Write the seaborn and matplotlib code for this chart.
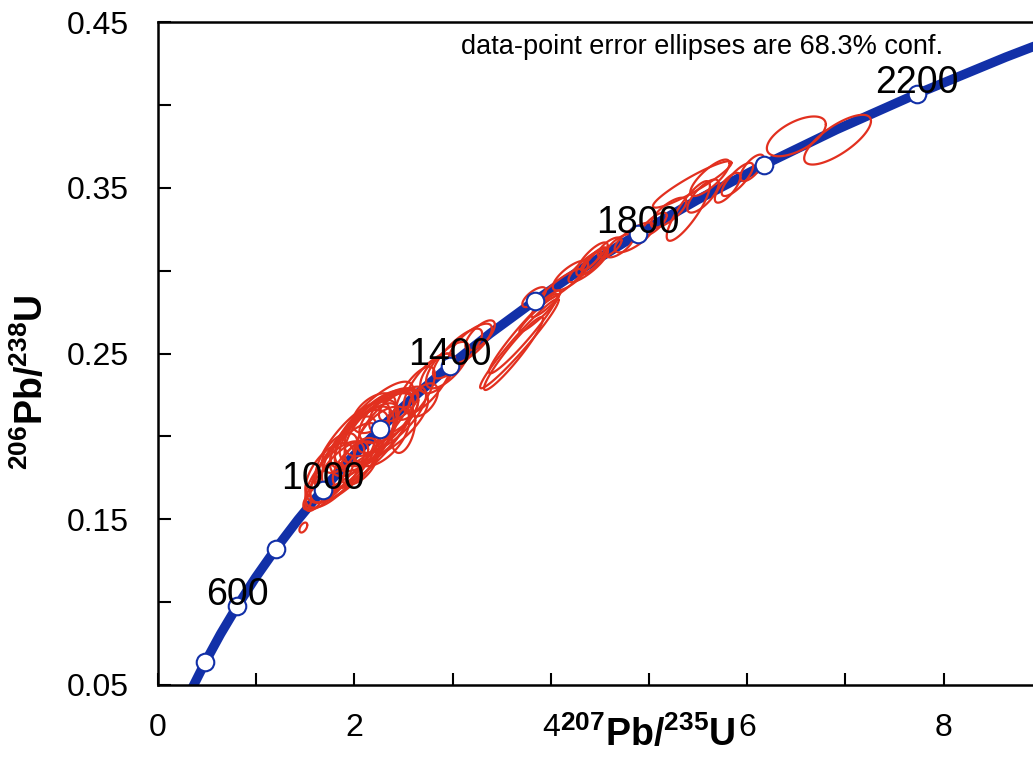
import numpy as np
import pandas as pd
import matplotlib
matplotlib.use("Agg")
import matplotlib.pyplot as plt
from matplotlib.ticker import FixedLocator, FixedFormatter
import seaborn as sns

# ---------------- data ----------------
# concordia curve (207Pb/235U, 206Pb/238U) read at 100 Ma steps
curve_age = [300, 400, 500, 600, 700, 800, 900, 1000, 1100, 1200, 1300, 1400,
             1500, 1600, 1700, 1800, 1900, 2000, 2100, 2200, 2300, 2340]
curve_x = [0.3437, 0.4828, 0.6363, 0.8056, 0.9925, 1.1987, 1.4264, 1.6774, 1.9546,
           2.2603, 2.5977, 2.9700, 3.3810, 3.8345, 4.3350, 4.8870, 5.4960, 6.1686,
           6.9100, 7.7300, 8.6330, 9.0200]
curve_y = [0.0476, 0.0640, 0.0807, 0.0975, 0.1147, 0.1321, 0.1498, 0.1678, 0.1861,
           0.2046, 0.2234, 0.2426, 0.2620, 0.2817, 0.3018, 0.3221, 0.3428, 0.3638,
           0.3851, 0.4067, 0.4288, 0.4376]

# age markers (white circles) and their labels
marker_age = [400, 600, 800, 1000, 1200, 1400, 1600, 1800, 2000, 2200]
marker_x = [0.4828, 0.8056, 1.1987, 1.6774, 2.2603, 2.9700, 3.8345, 4.8870, 6.1686, 7.7300]
marker_y = [0.0640, 0.0975, 0.1321, 0.1678, 0.2046, 0.2426, 0.2817, 0.3221, 0.3638, 0.4067]
labelled_ages = [600, 1000, 1400, 1800, 2200]

# data-point error ellipses: 207/235 ratio, error, 206/238 ratio, error, correlation
ell_x = [1.60, 1.70, 1.80, 1.90, 1.95, 2.00, 2.05, 2.10, 2.15, 2.20, 2.25, 2.30, 2.35,
         2.40, 2.45, 2.50, 2.05, 1.85, 2.20, 1.48, 1.52,
         1.75, 1.98, 2.12, 2.28, 2.38, 2.00, 2.18, 1.88,
         2.62, 2.75, 2.85, 2.95, 3.05, 3.18, 3.28, 2.70,
         3.68, 3.72, 3.62, 3.88, 3.95, 3.83,
         4.42, 4.45, 4.38, 4.20, 4.60, 4.85, 4.70, 4.10, 4.43, 4.41,
         5.44, 5.62, 5.40, 5.20, 5.05, 5.55, 5.90, 5.80, 6.05, 6.50, 6.92]
ell_sx = [0.10, 0.20, 0.30, 0.35, 0.28, 0.45, 0.30, 0.50, 0.25, 0.40, 0.35, 0.45, 0.30,
          0.25, 0.20, 0.12, 0.20, 0.18, 0.22, 0.04, 0.04,
          0.25, 0.38, 0.32, 0.28, 0.35, 0.22, 0.42, 0.26,
          0.20, 0.25, 0.18, 0.22, 0.25, 0.22, 0.15, 0.15,
          0.40, 0.35, 0.30, 0.20, 0.15, 0.12,
          0.16, 0.13, 0.20, 0.18, 0.12, 0.20, 0.14, 0.22, 0.12, 0.10,
          0.40, 0.20, 0.22, 0.18, 0.13, 0.16, 0.16, 0.13, 0.12, 0.30, 0.34]
ell_y = [0.163, 0.170, 0.177, 0.184, 0.190, 0.190, 0.196, 0.196, 0.200, 0.203, 0.208,
         0.206, 0.212, 0.215, 0.219, 0.204, 0.185, 0.190, 0.214, 0.145, 0.160,
         0.178, 0.195, 0.202, 0.200, 0.210, 0.183, 0.207, 0.181,
         0.226, 0.232, 0.238, 0.243, 0.250, 0.256, 0.261, 0.222,
         0.256, 0.262, 0.250, 0.274, 0.280, 0.284,
         0.307, 0.306, 0.303, 0.297, 0.314, 0.320, 0.315, 0.291, 0.307, 0.306,
         0.352, 0.356, 0.336, 0.335, 0.328, 0.345, 0.355, 0.350, 0.362, 0.381, 0.379]
ell_sy = [0.008, 0.014, 0.020, 0.024, 0.022, 0.030, 0.020, 0.030, 0.018, 0.024, 0.020,
          0.022, 0.016, 0.014, 0.010, 0.014, 0.014, 0.012, 0.012, 0.003, 0.004,
          0.018, 0.026, 0.020, 0.018, 0.020, 0.014, 0.026, 0.016,
          0.016, 0.018, 0.012, 0.014, 0.015, 0.012, 0.009, 0.010,
          0.027, 0.024, 0.022, 0.011, 0.008, 0.006,
          0.010, 0.008, 0.010, 0.009, 0.006, 0.009, 0.007, 0.010, 0.007, 0.006,
          0.014, 0.011, 0.018, 0.009, 0.007, 0.010, 0.010, 0.009, 0.008, 0.012, 0.015]
ell_rho = [0.60, 0.70, 0.70, 0.75, 0.65, 0.80, 0.60, 0.80, 0.55, 0.70, 0.65, 0.70, 0.60,
           0.50, 0.60, 0.40, 0.50, 0.50, 0.50, 0.50, 0.40,
           0.55, 0.75, 0.65, 0.55, 0.75, 0.60, 0.80, 0.70,
           0.70, 0.75, 0.60, 0.70, 0.80, 0.75, 0.70, 0.50,
           0.97, 0.96, 0.95, 0.95, 0.90, 0.70,
           0.80, 0.85, 0.85, 0.75, 0.70, 0.75, 0.70, 0.90, 0.90, 0.85,
           0.93, 0.80, 0.85, 0.75, 0.75, 0.75, 0.80, 0.75, 0.70, 0.60, 0.75]

note_text = "data-point error ellipses are 68.3% conf."

# ---------------- style ----------------
sns.set_style("ticks")
plt.rcParams["font.family"] = ["Liberation Sans", "DejaVu Sans"]
plt.rcParams["mathtext.fontset"] = "custom"
plt.rcParams["mathtext.rm"] = "Liberation Sans"
plt.rcParams["mathtext.bf"] = "Liberation Sans:bold"

BLUE = "#1230a8"
RED = "#e2301f"

fig = plt.figure(figsize=(10.33, 7.59), dpi=100)
ax = fig.add_axes([158 / 1033, 74 / 759, (1033 - 158) / 1033, 663 / 759])

# concordia
curve_df = pd.DataFrame({"x": curve_x, "y": curve_y, "age": curve_age})
sns.lineplot(data=curve_df, x="x", y="y", sort=False, estimator=None,
             color=BLUE, linewidth=6.8, ax=ax, zorder=2)

# error ellipses
t = np.linspace(0, 2 * np.pi, 120)
rows = []
for i, (cx, sx, cy, sy, r) in enumerate(zip(ell_x, ell_sx, ell_y, ell_sy, ell_rho)):
    ex = cx + sx * np.cos(t)
    ey = cy + sy * (r * np.cos(t) + np.sqrt(1 - r * r) * np.sin(t))
    rows.append(pd.DataFrame({"x": ex, "y": ey, "id": i}))
ell_df = pd.concat(rows, ignore_index=True)
sns.lineplot(data=ell_df, x="x", y="y", units="id", estimator=None, sort=False,
             color=RED, linewidth=1.6, ax=ax, zorder=3)

# age markers
sns.scatterplot(x=marker_x, y=marker_y, s=160, color="white", edgecolor=BLUE,
                linewidth=1.5, ax=ax, zorder=4)
for a, mx, my in zip(marker_age, marker_x, marker_y):
    if a in labelled_ages:
        ax.annotate(str(a), (mx, my), xytext=(0, 8), textcoords="offset points",
                    ha="center", va="center", fontsize=27, color="black", zorder=5)

ax.text((702 - 158) / 875, 0.962, note_text, transform=ax.transAxes, ha="center",
        va="center", fontsize=19.5, color="black")

# axes
ax.set_xlim(0, 8.91)
ax.set_ylim(0.05, 0.45)
xt = list(range(0, 9))
ax.xaxis.set_major_locator(FixedLocator(xt))
ax.xaxis.set_major_formatter(FixedFormatter([str(v) if v % 2 == 0 else "" for v in xt]))
yt = [0.05, 0.10, 0.15, 0.20, 0.25, 0.30, 0.35, 0.40, 0.45]
ax.yaxis.set_major_locator(FixedLocator(yt))
ax.yaxis.set_major_formatter(FixedFormatter([f"{v:.2f}" if i % 2 == 0 else "" for i, v in enumerate(yt)]))
ax.tick_params(direction="in", length=9, width=1.5, labelsize=23, color="black",
               labelcolor="black")
ax.tick_params(axis="y", pad=21)
ax.tick_params(axis="x", pad=20)
for s in ["left", "bottom", "top"]:
    ax.spines[s].set_linewidth(1.8)
    ax.spines[s].set_color("black")
ax.spines["right"].set_visible(False)
ax.set_xlabel("")
ax.set_ylabel("")

fig.text(648 / 1033, 1 - 735 / 759, r"$\mathbf{^{207}Pb/^{235}U}$", ha="center",
         va="center", fontsize=27, color="black")
fig.text(32 / 1033, 1 - 382 / 759, r"$\mathbf{^{206}Pb/^{238}U}$", ha="center",
         va="center", fontsize=27, rotation=90, color="black")

fig.savefig("out.png", dpi=100)
